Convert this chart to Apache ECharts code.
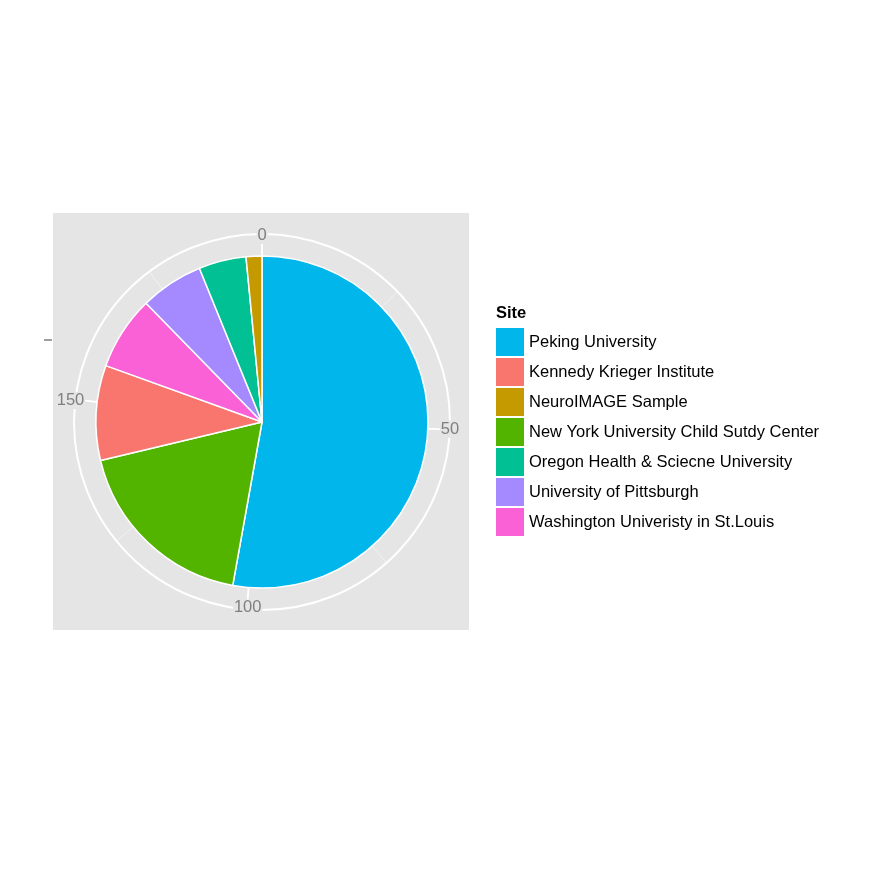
<!DOCTYPE html>
<html>
<head>
<meta charset="utf-8">
<script src="https://cdn.jsdelivr.net/npm/echarts@6/dist/echarts.min.js"></script>
<style>
  html, body { margin: 0; padding: 0; background: #fff; }
  #pie { width: 872px; height: 872px; }
</style>
</head>
<body>
<div id="pie"></div>
<script>
// slices in drawing order (clockwise from 12 o'clock)
var sites = ['Peking University', 'New York University Child Sutdy Center', 'Kennedy Krieger Institute',
             'Washington Univeristy in St.Louis', 'University of Pittsburgh',
             'Oregon Health & Sciecne University', 'NeuroIMAGE Sample'];
var counts = [103, 36, 18, 14, 12, 9, 3];
var siteColors = ['#00B6EB', '#53B400', '#F8766D', '#FB61D7', '#A58AFF', '#00C094', '#C49A00'];
// legend order (factor levels as in the original)
var legendOrder = ['Peking University', 'Kennedy Krieger Institute', 'NeuroIMAGE Sample',
                   'New York University Child Sutdy Center', 'Oregon Health & Sciecne University',
                   'University of Pittsburgh', 'Washington Univeristy in St.Louis'];
var total = counts.reduce(function (a, b) { return a + b; }, 0);

var pieChart = echarts.init(document.getElementById('pie'));

var pieData = [];
for (var i = 0; i < sites.length; ++i)
    pieData.push({ name: sites[i], value: counts[i], itemStyle: { color: siteColors[i] } });

var fontFam = '"Liberation Sans", Arial, Helvetica, sans-serif';

// three stacked polar systems: minor grid, major grid + circle, labels on top
var polars = [], radiusAxes = [];
for (var p = 0; p < 3; ++p) {
    polars.push({ center: [262, 422], radius: 188 });
    radiusAxes.push({ polarIndex: p, show: false });
}

pieOption = {
    animation: false,
    textStyle: { fontFamily: fontFam },
    title: {
      text: 'Site',
      left: 496,
      top: 305,
      padding: 0,
      textStyle: { fontSize: 16.5, fontWeight: 'bold', color: '#000', fontFamily: fontFam }
    },
    legend: {
      orient: 'vertical',
      left: 496,
      top: 328,
      padding: 0,
      itemWidth: 28,
      itemHeight: 28,
      itemGap: 2,
      icon: 'rect',
      selectedMode: false,
      data: legendOrder,
      itemStyle: { borderWidth: 0 },
      textStyle: { fontSize: 16.5, color: '#000', padding: [0, 0, 0, 0], fontFamily: fontFam }
    },
    graphic: [
      { type: 'rect', z: -10, silent: true,
        shape: { x: 53, y: 213, width: 416, height: 417 },
        style: { fill: '#e5e5e5' } },
      { type: 'line', silent: true,
        shape: { x1: 44, y1: 340, x2: 52, y2: 340 },
        style: { stroke: '#7f7f7f', lineWidth: 1.5 } }
    ],
    polar: polars,
    radiusAxis: radiusAxes,
    angleAxis: [
      {
        polarIndex: 0, z: 0, type: 'value', min: 0, max: total, interval: 25,
        startAngle: 90, clockwise: true,
        axisLine: { show: false }, axisTick: { show: false }, axisLabel: { show: false },
        splitLine: { show: true, lineStyle: { color: '#f2f2f2', width: 1 } }
      },
      {
        polarIndex: 1, z: 1, type: 'value', min: 0, max: total, interval: 50,
        startAngle: 90, clockwise: true,
        axisLine: { show: true, lineStyle: { color: '#ffffff', width: 2 } },
        axisTick: { show: false }, axisLabel: { show: false },
        splitLine: { show: true, lineStyle: { color: '#ffffff', width: 1.8 } }
      },
      {
        polarIndex: 2, z: 8, type: 'value', min: 0, max: total, interval: 50,
        startAngle: 90, clockwise: true,
        axisLine: { show: false }, axisTick: { show: false }, splitLine: { show: false },
        axisLabel: { show: true, showMaxLabel: false, margin: -10, color: '#7f7f7f', fontSize: 16.5,
                     fontFamily: fontFam, backgroundColor: '#e5e5e5', padding: [0, 1, 0, 1] }
      }
    ],
    series: [
      {
        name: 'Site',
        type: 'pie',
        center: [262, 422],
        radius: [0, 166],
        startAngle: 90,
        clockwise: true,
        z: 5,
        label: { show: false },
        labelLine: { show: false },
        emphasis: { disabled: true },
        itemStyle: { borderColor: '#ffffff', borderWidth: 1.5 },
        data: pieData
      }
    ]
  };

pieChart.setOption(pieOption);
</script>
</body>
</html>
